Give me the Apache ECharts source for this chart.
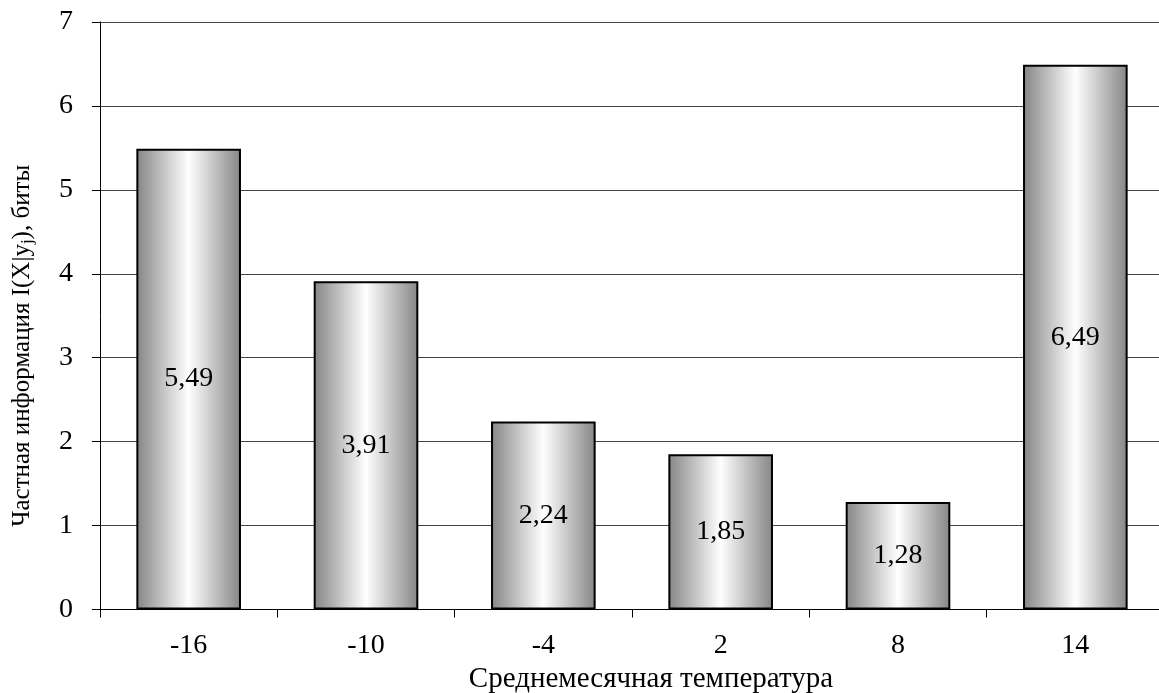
<!DOCTYPE html>
<html>
<head>
<meta charset="utf-8">
<script src="https://cdn.jsdelivr.net/npm/echarts@6/dist/echarts.min.js"></script>
<style>html,body{margin:0;padding:0;background:#fff;}#c{width:1159px;height:693px;}</style>
</head>
<body>
<div id="c"></div>
<script>
const categories = ['-16', '-10', '-4', '2', '8', '14'];
const values = [5.49, 3.91, 2.24, 1.85, 1.28, 6.49];
const yTicks = [0, 1, 2, 3, 4, 5, 6, 7];
const xTitle = 'Среднемесячная температура';
const yTitle = 'Частная информация I(X|y{sub|j}), биты';

const FONT = '"Liberation Serif", "Times New Roman", serif';
const chart = echarts.init(document.getElementById('c'), null, {renderer: 'canvas'});
chart.setOption({
  animation: false,
  backgroundColor: '#fff',
  grid: {left: 100, right: -5, top: 22, bottom: 83.5, containLabel: false, outerBoundsMode: 'none'},
  xAxis: {
    type: 'category',
    data: categories,
    boundaryGap: true,
    axisLine: {show: true, lineStyle: {color: '#000', width: 1}},
    axisTick: {show: true, length: 8, lineStyle: {color: '#000'}},
    axisLabel: {color: '#000', fontFamily: FONT, fontSize: 28, margin: 22},
    name: xTitle,
    nameLocation: 'middle',
    nameGap: 52,
    nameTextStyle: {color: '#000', fontFamily: FONT, fontSize: 29, padding: [0, 0, 0, 38]}
  },
  yAxis: {
    type: 'value',
    min: yTicks[0],
    max: yTicks[yTicks.length - 1],
    interval: 1,
    axisLine: {show: true, lineStyle: {color: '#000', width: 1}},
    axisTick: {show: true, length: 8, lineStyle: {color: '#000'}},
    axisLabel: {color: '#000', fontFamily: FONT, fontSize: 28, margin: 27},
    splitLine: {show: true, lineStyle: {color: '#444', width: 1}},
    name: yTitle,
    nameLocation: 'middle',
    nameRotate: 90,
    nameGap: 64,
    nameTextStyle: {
      color: '#000', fontFamily: FONT, fontSize: 25, padding: [0, 60, 0, 0],
      rich: {sub: {fontFamily: FONT, fontSize: 17, color: '#000', padding: [11, 0, 0, 0]}}
    }
  },
  series: [{
    type: 'bar',
    data: values,
    barWidth: '59%',
    itemStyle: {
      borderColor: '#000',
      borderWidth: 2,
      color: new echarts.graphic.LinearGradient(0, 0, 1, 0, [
        {offset: 0, color: '#858585'},
        {offset: 0.5, color: '#ffffff'},
        {offset: 1, color: '#858585'}
      ])
    },
    label: {
      show: true,
      position: 'inside',
      color: '#000',
      fontFamily: FONT,
      fontSize: 28,
      formatter: p => String(p.value).replace('.', ',')
    }
  }]
});
</script>
</body>
</html>
